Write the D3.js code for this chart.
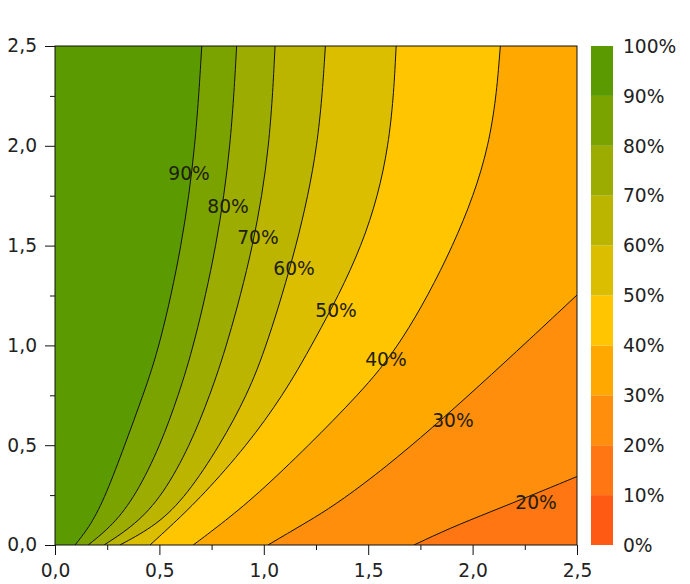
<!DOCTYPE html>
<html>
<head>
<meta charset="utf-8">
<script src="https://cdn.jsdelivr.net/npm/d3@7"></script>
<style>
  body { margin: 0; background: #fff; }
  text { font-family: "DejaVu Sans", Verdana, sans-serif; }
</style>
</head>
<body>
<svg id="chart" width="690" height="584"></svg>
<script>
// ---------- data ----------
const levels = [0, 10, 20, 30, 40, 50, 60, 70, 80, 90, 100];
const bandColors = ["#ff5a14", "#ff7612", "#ff8e0c", "#ffa900", "#ffc600",
                    "#dcbe00", "#bcb500", "#9cac00", "#7ba300", "#5b9a00"];
const axisTicks = [0, 0.5, 1.0, 1.5, 2.0, 2.5];
const axisTickLabels = ["0,0", "0,5", "1,0", "1,5", "2,0", "2,5"];
const minorTicks = [0.25, 0.75, 1.25, 1.75, 2.25];

// contour lines, [x, y] points from the start edge to the bottom edge
const contour90 = [[0.703, 2.5], [0.674, 2.0], [0.609, 1.5], [0.503, 1.0], [0.422, 0.75], [0.334, 0.5], [0.244, 0.25], [0.172, 0.1], [0.096, 0]];
const contour80 = [[0.870, 2.5], [0.843, 2.0], [0.776, 1.5], [0.666, 1.0], [0.591, 0.75], [0.505, 0.5], [0.388, 0.25], [0.278, 0.1], [0.159, 0]];
const contour70 = [[1.054, 2.5], [1.030, 2.0], [0.953, 1.5], [0.824, 1.0], [0.742, 0.75], [0.647, 0.5], [0.517, 0.25], [0.383, 0.1], [0.235, 0]];
const contour60 = [[1.295, 2.5], [1.264, 2.0], [1.160, 1.5], [1.015, 1.0], [0.920, 0.75], [0.790, 0.5], [0.632, 0.25], [0.489, 0.1], [0.311, 0]];
const contour50 = [[1.634, 2.5], [1.609, 2.0], [1.485, 1.5], [1.231, 1.0], [1.092, 0.75], [0.920, 0.5], [0.709, 0.25], [0.560, 0.1], [0.455, 0]];
const contour40 = [[2.133, 2.5], [2.094, 2.0], [1.916, 1.5], [1.657, 1.0], [1.451, 0.75], [1.216, 0.5], [0.967, 0.25], [0.790, 0.1], [0.662, 0]];
const contour30 = [[2.5, 1.2525], [2.275, 1.032], [2.026, 0.792], [1.806, 0.586], [1.585, 0.391], [1.375, 0.225], [1.240, 0.135], [1.125, 0.065], [1.020, 0]];
const contour20 = [[2.5, 0.343], [2.299, 0.256], [2.083, 0.165], [1.892, 0.085], [1.719, 0]];

const contourLevels = [20, 30, 40, 50, 60, 70, 80, 90];
const contourLines = [contour20, contour30, contour40, contour50, contour60, contour70, contour80, contour90];
const labelLevels = [90, 80, 70, 60, 50, 40, 30, 20];
const labelX = [0.642, 0.829, 0.972, 1.145, 1.346, 1.585, 1.906, 2.304];
const labelY = [1.864, 1.698, 1.543, 1.388, 1.177, 0.932, 0.626, 0.215];

// ---------- layout ----------
const plot = { left: 55, top: 46, right: 577, bottom: 545 };
const fontSize = 18.67;

const svg = d3.select("#chart");
const x = d3.scaleLinear().domain([0, 2.5]).range([plot.left, plot.right]);
const y = d3.scaleLinear().domain([0, 2.5]).range([plot.bottom, plot.top]);
const cy = d3.scaleLinear().domain([0, 100]).range([plot.bottom, plot.top]);

svg.append("defs").append("clipPath").attr("id", "clip")
  .append("rect")
  .attr("x", plot.left).attr("y", plot.top)
  .attr("width", plot.right - plot.left).attr("height", plot.bottom - plot.top);

const g = svg.append("g").attr("clip-path", "url(#clip)");

// background = band 10-20
g.append("rect")
  .attr("x", plot.left).attr("y", plot.top)
  .attr("width", plot.right - plot.left).attr("height", plot.bottom - plot.top)
  .attr("fill", bandColors[1]);

const line = d3.line().x(d => x(d[0])).y(d => y(d[1])).curve(d3.curveBasis);

// filled regions value >= level (upper-left side of each line)
contourLines.forEach((pts, i) => {
  const lvl = contourLevels[i];
  const corners = [[0, 0], [0, 2.5]];
  if (pts[0][0] >= 2.5) corners.push([2.5, 2.5]);
  const path = line(pts) + corners.map(c => "L" + x(c[0]) + "," + y(c[1])).join("") + "Z";
  g.append("path").attr("d", path).attr("fill", bandColors[lvl / 10]).attr("stroke", "none");
});

// contour lines
contourLines.forEach(pts => {
  g.append("path").attr("d", line(pts))
    .attr("fill", "none").attr("stroke", "#111").attr("stroke-width", 1);
});

// contour labels
labelLevels.forEach((lv, i) => {
  svg.append("text")
    .attr("x", x(labelX[i])).attr("y", y(labelY[i]))
    .attr("text-anchor", "middle").attr("dy", "0.36em")
    .attr("font-size", fontSize).attr("fill", "#1e1e0a")
    .text(lv + "%");
});

// frame
svg.append("rect")
  .attr("x", plot.left).attr("y", plot.top)
  .attr("width", plot.right - plot.left).attr("height", plot.bottom - plot.top)
  .attr("fill", "none").attr("stroke", "#111").attr("stroke-width", 1);

// axes
const fmt = d => axisTickLabels[axisTicks.indexOf(d)];
const xAxis = svg.append("g").attr("transform", `translate(0,${plot.bottom})`)
  .call(d3.axisBottom(x).tickValues(axisTicks).tickFormat(fmt).tickSize(10).tickSizeOuter(0).tickPadding(9));
const xMinor = svg.append("g").attr("transform", `translate(0,${plot.bottom})`)
  .call(d3.axisBottom(x).tickValues(minorTicks).tickFormat("").tickSize(5).tickSizeOuter(0));
const yAxis = svg.append("g").attr("transform", `translate(${plot.left},0)`)
  .call(d3.axisLeft(y).tickValues(axisTicks).tickFormat(fmt).tickSize(10).tickSizeOuter(0).tickPadding(8));
const yMinor = svg.append("g").attr("transform", `translate(${plot.left},0)`)
  .call(d3.axisLeft(y).tickValues(minorTicks).tickFormat("").tickSize(5).tickSizeOuter(0));
[xAxis, xMinor, yAxis, yMinor].forEach(a => {
  a.select(".domain").remove();
  a.selectAll("line").attr("stroke", "#111");
  a.selectAll("text").attr("font-size", fontSize).attr("fill", "#222")
    .attr("font-family", "\"DejaVu Sans\", Verdana, sans-serif");
});

// colour bar
const bar = { x: 591, w: 22 };
d3.range(10).forEach(i => {
  svg.append("rect")
    .attr("x", bar.x).attr("width", bar.w)
    .attr("y", cy(levels[i + 1])).attr("height", cy(levels[i]) - cy(levels[i + 1]))
    .attr("fill", bandColors[i]);
});
levels.forEach(v => {
  svg.append("text")
    .attr("x", 623).attr("y", cy(v)).attr("dy", "0.36em")
    .attr("font-size", fontSize).attr("fill", "#222")
    .text(v + "%");
});
</script>
</body>
</html>
